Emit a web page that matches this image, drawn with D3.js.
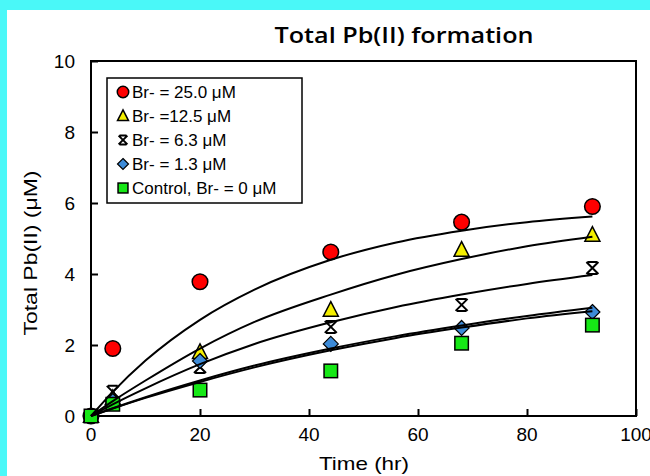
<!DOCTYPE html>
<html>
<head>
<meta charset="utf-8">
<script src="https://cdn.jsdelivr.net/npm/d3@7"></script>
<style>
    html, body { margin: 0; padding: 0; background: #4af8f8; }
    #graph { width: 650px; height: 476px; }
</style>
</head>
<body>
<div id="graph"></div>
<script>
// measured points, Total Pb(II) (uM) vs time (hr)
var times = [0, 4, 20, 44, 68, 92];
var br250 = [0, 1.9, 3.78, 4.62, 5.46, 5.9];
var br125 = [0, 0.5, 1.8, 2.99, 4.68, 5.1];
var br63 = [0, 0.68, 1.38, 2.51, 3.13, 4.17];
var br13 = [0, 0.42, 1.55, 2.03, 2.48, 2.93];
var control = [0, 0.33, 0.73, 1.27, 2.05, 2.56];

// fitted curves
var fitTimes = [0, 4, 10, 20, 30, 44, 56, 68, 80, 92];
var fit250 = [0, 0.68, 1.56, 2.71, 3.56, 4.40, 4.89, 5.22, 5.46, 5.62];
var fit125 = [0, 0.42, 1.0, 1.9, 2.65, 3.42, 3.98, 4.42, 4.78, 5.05];
var fit63 = [0, 0.33, 0.78, 1.46, 2.03, 2.64, 3.07, 3.42, 3.72, 3.97];
var fit13 = [0, 0.22, 0.53, 1.0, 1.42, 1.9, 2.25, 2.55, 2.82, 3.05];
var fitControl = [0, 0.21, 0.51, 0.96, 1.37, 1.85, 2.2, 2.49, 2.75, 2.95];

var seriesNames = ["Br- = 25.0 \u03bcM", "Br- =12.5 \u03bcM", "Br- = 6.3 \u03bcM", "Br- = 1.3 \u03bcM", "Control, Br- = 0 \u03bcM"];
var xTicks = [0, 20, 40, 60, 80, 100];
var yTicks = [0, 2, 4, 6, 8, 10];

function load() {
    var series = [
        {name: seriesNames[0], values: br250, fit: fit250, shape: "circle", color: "#ff0000"},
        {name: seriesNames[1], values: br125, fit: fit125, shape: "triangle", color: "#f4ef00"},
        {name: seriesNames[2], values: br63, fit: fit63, shape: "star", color: "#000000"},
        {name: seriesNames[3], values: br13, fit: fit13, shape: "diamond", color: "#3d8bd8"},
        {name: seriesNames[4], values: control, fit: fitControl, shape: "square", color: "#16e816"}
    ];

    var width = 650, height = 476;
    var plotLeft = 91, plotRight = 636, plotTop = 61, plotBottom = 416;

    var svg = d3.select("#graph").append("svg")
        .attr("width", width)
        .attr("height", height);

    svg.append("rect")
        .attr("x", 7).attr("y", 10)
        .attr("width", width - 7).attr("height", height - 10)
        .attr("fill", "#ffffff");

    var x = d3.scaleLinear().domain([0, 100]).range([plotLeft, plotRight]);
    var y = d3.scaleLinear().domain([0, 10]).range([plotBottom, plotTop]);

    var font = "'Liberation Sans', Arial, sans-serif";

    // title
    svg.append("text")
        .attr("x", 404)
        .attr("y", 43)
        .attr("text-anchor", "middle")
        .attr("font-family", "'Open Sans', sans-serif")
        .attr("font-weight", 600)
        .attr("font-size", 22)
        .attr("textLength", 259)
        .attr("lengthAdjust", "spacingAndGlyphs")
        .text("Total Pb(II) formation");

    // axes, ticks pointing inside
    var xAxis = d3.axisTop(x).tickValues(xTicks).tickSize(7).tickFormat("");
    var yAxis = d3.axisRight(y).tickValues(yTicks).tickSize(7).tickFormat("");

    svg.append("g")
        .attr("class", "axis axis--x")
        .attr("transform", "translate(0," + plotBottom + ")")
        .call(xAxis);
    svg.append("g")
        .attr("class", "axis axis--y")
        .attr("transform", "translate(" + plotLeft + ",0)")
        .call(yAxis);

    svg.selectAll(".axis .domain").remove();
    svg.selectAll(".axis line")
        .attr("stroke", "#000")
        .attr("stroke-width", 2);

    svg.append("rect")
        .attr("x", plotLeft).attr("y", plotTop)
        .attr("width", plotRight - plotLeft).attr("height", plotBottom - plotTop)
        .attr("fill", "none")
        .attr("stroke", "#000")
        .attr("stroke-width", 2);

    svg.selectAll(".xlabel")
        .data(xTicks)
        .enter()
        .append("text")
        .attr("class", "xlabel")
        .attr("x", function(d) { return x(d); })
        .attr("y", 441)
        .attr("text-anchor", "middle")
        .attr("font-family", font)
        .attr("font-size", 19)
        .text(function(d) { return d; });

    svg.selectAll(".ylabel")
        .data(yTicks)
        .enter()
        .append("text")
        .attr("class", "ylabel")
        .attr("x", 75)
        .attr("y", function(d) { return y(d) + 7; })
        .attr("text-anchor", "end")
        .attr("font-family", font)
        .attr("font-size", 19)
        .text(function(d) { return d; });

    svg.append("text")
        .attr("x", 364)
        .attr("y", 470)
        .attr("text-anchor", "middle")
        .attr("font-family", font)
        .attr("font-size", 19)
        .attr("textLength", 90)
        .attr("lengthAdjust", "spacingAndGlyphs")
        .text("Time (hr)");

    svg.append("text")
        .attr("transform", "translate(37,253) rotate(-90)")
        .attr("text-anchor", "middle")
        .attr("font-family", font)
        .attr("font-size", 19)
        .attr("textLength", 165)
        .attr("lengthAdjust", "spacingAndGlyphs")
        .text("Total Pb(II) (\u03bcM)");

    // marker shapes
    function drawMarker(g, shape, color, s) {
        if (shape == "circle") {
            g.append("circle").attr("r", s * 0.52)
                .attr("fill", color).attr("stroke", "#000").attr("stroke-width", 1.5);
        } else if (shape == "triangle") {
            g.append("path")
                .attr("d", "M0," + (-s * 0.55) + "L" + (s * 0.5) + "," + (s * 0.42) + "L" + (-s * 0.5) + "," + (s * 0.42) + "Z")
                .attr("fill", color).attr("stroke", "#000").attr("stroke-width", 1.5);
        } else if (shape == "diamond") {
            g.append("path")
                .attr("d", "M0," + (-s * 0.5) + "L" + (s * 0.5) + ",0L0," + (s * 0.5) + "L" + (-s * 0.5) + ",0Z")
                .attr("fill", color).attr("stroke", "#000").attr("stroke-width", 1.2);
        } else if (shape == "square") {
            g.append("rect")
                .attr("x", -s * 0.45).attr("y", -s * 0.45)
                .attr("width", s * 0.9).attr("height", s * 0.9)
                .attr("fill", color).attr("stroke", "#000").attr("stroke-width", 1.5);
        } else if (shape == "star") {
            var h = s * 0.4;
            g.append("path")
                .attr("d", "M" + (-h) + "," + (-h) + "L" + h + "," + h +
                    "M" + h + "," + (-h) + "L" + (-h) + "," + h +
                    "M" + (-h * 0.8) + "," + (-h) + "L" + (h * 0.8) + "," + (-h) +
                    "M" + (-h * 0.8) + "," + h + "L" + (h * 0.8) + "," + h)
                .attr("fill", "none").attr("stroke", "#000").attr("stroke-width", 2);
        }
    }

    var points = svg.append("g").attr("class", "points");
    series.forEach(function(s) {
        points.selectAll(null)
            .data(s.values)
            .enter()
            .append("g")
            .attr("transform", function(d, i) {
                return "translate(" + x(times[i]) + "," + y(d) + ")";
            })
            .each(function() {
                drawMarker(d3.select(this), s.shape, s.color, 15);
            });
    });

    var line = d3.line()
        .curve(d3.curveMonotoneX)
        .x(function(d, i) { return x(fitTimes[i]); })
        .y(function(d) { return y(d); });

    svg.append("g").attr("class", "fits")
        .selectAll("path")
        .data(series)
        .enter()
        .append("path")
        .attr("fill", "none")
        .attr("stroke", "#000")
        .attr("stroke-width", 2)
        .attr("d", function(d) { return line(d.fit); });

    // legend
    var legend = svg.append("g").attr("class", "legend");
    legend.append("rect")
        .attr("x", 107).attr("y", 78)
        .attr("width", 195).attr("height", 125)
        .attr("fill", "#fff")
        .attr("stroke", "#000")
        .attr("stroke-width", 1.5);

    var items = legend.selectAll(".item")
        .data(series)
        .enter()
        .append("g")
        .attr("class", "item")
        .attr("transform", function(d, i) {
            return "translate(123," + (92 + i * 24) + ")";
        });

    items.each(function(d) {
        drawMarker(d3.select(this), d.shape, d.color, 11);
    });

    items.append("text")
        .attr("x", 9)
        .attr("y", 6)
        .attr("font-family", font)
        .attr("font-size", 17)
        .text(function(d) { return d.name; });
}

load();
</script>
</body>
</html>
